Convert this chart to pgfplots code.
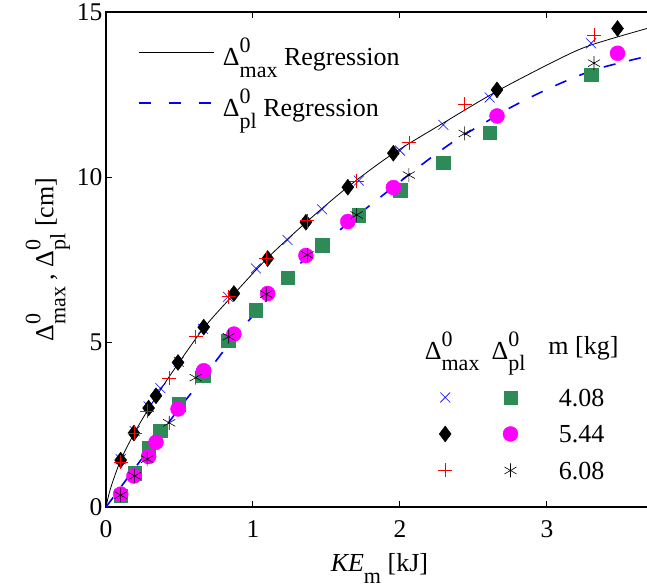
\documentclass[border=0pt]{standalone}
\usepackage{amsmath}
\usepackage{fontspec}
\setmainfont{Liberation Serif}
\usepackage{pgfplots}
\pgfplotsset{compat=1.18}
\definecolor{sgreen}{RGB}{46,139,87}
\definecolor{mag}{RGB}{255,0,255}
\newcommand{\lfont}{\fontsize{26}{30}\selectfont}
\newcommand{\sfnt}{\fontsize{22}{22}\selectfont}
\newcommand{\Dx}[1]{Δ\rlap{\raisebox{0.5em}{\sfnt 0}}\raisebox{-0.46em}{\sfnt #1}}
\newcommand{\lline}[1]{\path[draw=none,fill=none] (0pt,-25.5pt) rectangle (84pt,25.5pt); \draw[#1] (0pt,0pt) -- (75pt,0pt);}
\newcommand{\lmark}[3]{\path[draw=none,fill=none] (-30pt,-18.25pt) rectangle (30pt,18.25pt); \path[#1,mark size=#3] plot[only marks,mark=#2] coordinates {(0pt,0pt)};}
\newcommand{\lhead}[3]{\path[draw=none,fill=none] (-#1,-34pt) rectangle (#1,18pt); \node[inner sep=0pt,font=\lfont,draw=none,fill=none] at (#2,0pt) {#3};}
\newcommand{\lnum}[1]{\path[draw=none,fill=none] (-40pt,-18.25pt) rectangle (40pt,18.25pt); \node[inner sep=0pt,font=\lfont,draw=none,fill=none] at (0pt,0pt) {#1};}
\begin{document}
\begin{tikzpicture}
\begin{axis}[name=main, scale only axis, width=546.8pt, height=495pt,
  xmin=0, xmax=3.72, ymin=0, ymax=15,
  xtick={0,1,2,3}, ytick={0,5,10,15},
  tick align=inside, major tick length=6pt,
  axis line style={line width=1.2pt},
  every tick/.style={black, line width=1pt},
  tick label style={font=\fontsize{25.5}{30}\selectfont},
  /pgf/number format/assume math mode=true,
  xticklabel style={yshift=-10pt},
  xlabel={\textit{KE}\raisebox{-0.46em}{\sfnt m} [kJ]},
  xlabel style={yshift=-9pt},
  ylabel={\Dx{max} , \Dx{pl} [cm]},
  label style={font=\lfont},
  legend cell align=left,
  legend style={draw=none, fill=none, at={(0.0585,0.9707)}, anchor=north west,
    inner sep=0pt, row sep=0pt, column sep=0pt, nodes={inner sep=0pt}, font=\lfont},
]
% Delta_max, m=4.08 (blue x)
\addplot[forget plot, only marks, mark=x, blue, mark size=7pt, line width=0.6pt] coordinates {
(0.10,1.45)(0.195,2.3)(0.29,3.05)(0.37,3.6)(0.495,4.4)(0.66,5.4)(0.83,6.37)(1.02,7.23)(1.235,8.09)(1.47,9.02)(1.72,9.89)(2.0,10.8)(2.295,11.58)(2.61,12.41)(3.30,14.05)};
% Delta_pl, m=4.08 (green squares)
\addplot[forget plot, only marks, mark=square*, mark size=6.75pt, draw=sgreen, fill=sgreen] coordinates {
(0.10,0.34)(0.195,1.02)(0.29,1.78)(0.37,2.31)(0.495,3.12)(0.66,4.0)(0.83,5.04)(1.02,5.97)(1.235,6.95)(1.47,7.94)(1.72,8.85)(2.0,9.6)(2.295,10.43)(2.61,11.35)(3.30,13.1)};
% Delta_max, m=5.44 (black diamonds)
\addplot[forget plot, only marks, mark=diamond*, mark size=8pt, black] coordinates {
(0.10,1.42)(0.19,2.24)(0.29,3.0)(0.34,3.37)(0.49,4.38)(0.665,5.45)(0.87,6.47)(1.10,7.53)(1.36,8.63)(1.645,9.69)(1.955,10.72)(2.66,12.64)(3.48,14.5)};
% Delta_pl, m=5.44 (magenta circles)
\addplot[forget plot, only marks, mark=*, mark size=7.5pt, draw=mag, fill=mag] coordinates {
(0.10,0.39)(0.19,0.94)(0.29,1.53)(0.34,1.96)(0.49,2.97)(0.665,4.13)(0.87,5.24)(1.10,6.47)(1.36,7.62)(1.645,8.65)(1.955,9.68)(2.66,11.85)(3.48,13.75)};
% Delta_max, m=6.08 (red +)
\addplot[forget plot, only marks, mark=+, mark size=7pt, red, line width=0.6pt] coordinates {
(0.10,1.35)(0.195,2.23)(0.28,2.91)(0.43,3.9)(0.61,5.16)(0.835,6.37)(1.09,7.53)(1.37,8.68)(1.705,9.88)(2.06,11.04)(2.44,12.2)(3.32,14.3)};
% Delta_pl, m=6.08 (asterisks)
\addplot[forget plot, only marks, mark=asterisk, mark size=7pt, black, line width=0.6pt] coordinates {
(0.10,0.36)(0.195,0.94)(0.28,1.45)(0.43,2.55)(0.61,3.92)(0.835,5.16)(1.09,6.45)(1.37,7.64)(1.705,8.85)(2.06,10.06)(2.44,11.32)(3.32,13.45)};
% regressions
\addplot[forget plot, black, line width=0.8pt, smooth] coordinates {
(0,0)(0.03,0.55)(0.1,1.42)(0.2,2.3)(0.3,3.05)(0.4,3.75)(0.5,4.4)(0.67,5.45)(0.87,6.45)(1.1,7.55)(1.36,8.62)(1.64,9.68)(1.95,10.7)(2.3,11.65)(2.66,12.6)(3.07,13.55)(3.3,14.0)(3.72,14.55)};
\addplot[forget plot, blue, line width=1.6pt, dash pattern=on 12pt off 14pt, smooth] coordinates {
(0,0)(0.1,0.6)(0.2,1.2)(0.3,1.8)(0.4,2.4)(0.5,3.0)(0.65,3.85)(0.83,4.9)(1.0,5.8)(1.1,6.3)(1.235,6.95)(1.36,7.55)(1.54,8.2)(1.7,8.8)(1.955,9.7)(2.2,10.55)(2.39,11.15)(2.59,11.68)(2.75,12.1)(2.95,12.55)(3.15,12.95)(3.36,13.3)(3.72,13.7)};
\addlegendimage{legend image code/.code={\lline{black,line width=0.8pt}}}
\addlegendentry{\Dx{max} Regression}
\addlegendimage{legend image code/.code={\lline{blue,line width=1.6pt,dash pattern=on 12pt off 18pt}}}
\addlegendentry{\Dx{pl} Regression}
\end{axis}
\begin{axis}[scale only axis, width=546.8pt, height=495pt, hide axis,
  xmin=0, xmax=1, ymin=0, ymax=1, legend columns=3,
  legend style={draw=none, fill=none, at={(0.5651,0.3636)}, anchor=north west,
    inner sep=0pt, row sep=0pt, column sep=0pt, nodes={inner sep=0pt, text depth=0pt}},
]
\addlegendimage{legend image code/.code={\lhead{30pt}{7pt}{\Dx{max}}}}
\addlegendentry{}
\addlegendimage{legend image code/.code={\lhead{30pt}{-2pt}{\Dx{pl}}}}
\addlegendentry{}
\addlegendimage{legend image code/.code={\lhead{40pt}{2pt}{m [kg]}}}
\addlegendentry{}
\addlegendimage{legend image code/.code={\lmark{draw=blue,line width=0.6pt}{x}{7pt}}}
\addlegendentry{}
\addlegendimage{legend image code/.code={\lmark{draw=sgreen,fill=sgreen}{square*}{6.75pt}}}
\addlegendentry{}
\addlegendimage{legend image code/.code={\lnum{4.08}}}
\addlegendentry{}
\addlegendimage{legend image code/.code={\lmark{draw=black,fill=black}{diamond*}{8pt}}}
\addlegendentry{}
\addlegendimage{legend image code/.code={\lmark{draw=mag,fill=mag}{*}{7.5pt}}}
\addlegendentry{}
\addlegendimage{legend image code/.code={\lnum{5.44}}}
\addlegendentry{}
\addlegendimage{legend image code/.code={\lmark{draw=red,line width=0.6pt}{+}{7pt}}}
\addlegendentry{}
\addlegendimage{legend image code/.code={\lmark{draw=black,line width=0.6pt}{asterisk}{7pt}}}
\addlegendentry{}
\addlegendimage{legend image code/.code={\lnum{6.08}}}
\addlegendentry{}
\end{axis}
\pgfresetboundingbox
\path ([xshift=-106pt,yshift=-80pt]main.south west) rectangle ([xshift=541pt,yshift=507pt]main.south west);
\end{tikzpicture}
\end{document}
